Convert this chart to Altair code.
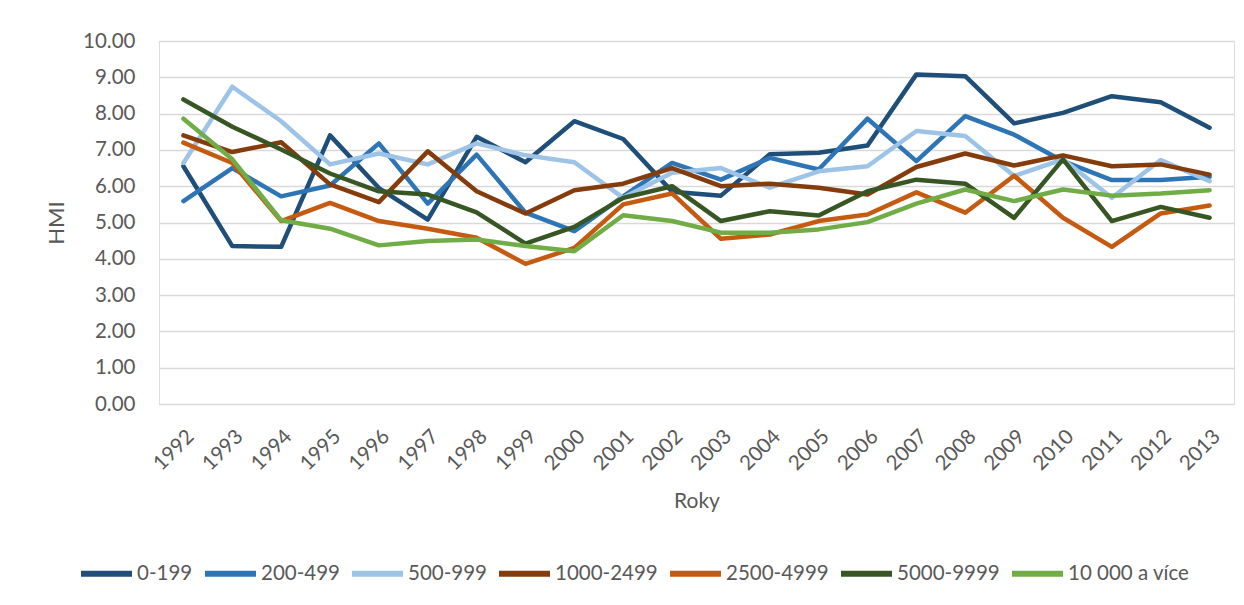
import altair as alt
import pandas as pd

years = [str(y) for y in range(1992, 2014)]

series_names = ["0-199", "200-499", "500-999", "1000-2499", "2500-4999", "5000-9999", "10 000 a více"]
colors = ["#1F4E79", "#2E75B6", "#9DC3E6", "#843C0C", "#C55A11", "#375623", "#70AD47"]

s_0_199 = [6.55, 4.35, 4.33, 7.40, 5.95, 5.08, 7.36, 6.66, 7.79, 7.30, 5.85, 5.74, 6.88, 6.92, 7.12, 9.08, 9.03, 7.73, 8.02, 8.48, 8.31, 7.61]
s_200_499 = [5.59, 6.50, 5.72, 6.02, 7.18, 5.52, 6.87, 5.27, 4.76, 5.72, 6.64, 6.18, 6.78, 6.46, 7.86, 6.69, 7.93, 7.42, 6.69, 6.17, 6.17, 6.26]
s_500_999 = [6.64, 8.74, 7.79, 6.60, 6.90, 6.60, 7.18, 6.85, 6.66, 5.68, 6.37, 6.50, 5.96, 6.41, 6.55, 7.52, 7.38, 6.28, 6.74, 5.68, 6.72, 6.14]
s_1000_2499 = [7.40, 6.94, 7.21, 6.05, 5.56, 6.96, 5.86, 5.25, 5.89, 6.07, 6.50, 6.00, 6.07, 5.96, 5.77, 6.53, 6.90, 6.57, 6.85, 6.55, 6.60, 6.32]
s_2500_4999 = [7.20, 6.64, 5.04, 5.54, 5.04, 4.83, 4.58, 3.86, 4.30, 5.50, 5.80, 4.55, 4.67, 5.04, 5.22, 5.83, 5.27, 6.29, 5.13, 4.33, 5.25, 5.47]
s_5000_9999 = [8.39, 7.64, 7.01, 6.35, 5.86, 5.77, 5.28, 4.42, 4.88, 5.68, 6.00, 5.04, 5.31, 5.19, 5.86, 6.18, 6.07, 5.13, 6.74, 5.04, 5.43, 5.13]
s_10000 = [7.86, 6.74, 5.06, 4.83, 4.37, 4.49, 4.53, 4.35, 4.21, 5.20, 5.04, 4.72, 4.72, 4.81, 5.01, 5.52, 5.91, 5.59, 5.91, 5.74, 5.80, 5.89]

all_series = [s_0_199, s_200_499, s_500_999, s_1000_2499, s_2500_4999, s_5000_9999, s_10000]

rows = []
for name, vals in zip(series_names, all_series):
    for yr, v in zip(years, vals):
        rows.append({"Rok": yr, "HMI": v, "Skupina": name})
df = pd.DataFrame(rows)

FONT = "Lato"
GRAY = "#595959"

chart = alt.Chart(df).mark_line(strokeWidth=4.5, strokeCap="round", strokeJoin="round").encode(
    x=alt.X("Rok:O", sort=years, title="Roky",
            scale=alt.Scale(type="point", padding=0.5),
            axis=alt.Axis(labelAngle=-45, labelFontSize=20.5, labelColor=GRAY, labelPadding=22,
                          ticks=False, domain=False, grid=False,
                          titleFontSize=21, titleColor=GRAY, titleFontWeight="normal",
                          titlePadding=16, labelFont=FONT, titleFont=FONT)),
    y=alt.Y("HMI:Q", title="HMI",
            scale=alt.Scale(domain=[0, 10], nice=False),
            axis=alt.Axis(values=[0, 1, 2, 3, 4, 5, 6, 7, 8, 9, 10], format=".2f",
                          labelFontSize=20.5, labelColor=GRAY, labelPadding=24,
                          ticks=False, domain=False, grid=True,
                          gridColor="#d9d9d9", gridWidth=1.5,
                          titleFontSize=22, titleColor=GRAY, titleFontWeight="normal",
                          titlePadding=14, labelFont=FONT, titleFont=FONT)),
    color=alt.Color("Skupina:N", sort=series_names,
                    scale=alt.Scale(domain=series_names, range=colors),
                    legend=alt.Legend(title=None, orient="none", legendX=-81, legendY=504,
                                      direction="horizontal", columns=7,
                                      symbolType="stroke", symbolSize=2601, symbolStrokeWidth=6,
                                      labelFontSize=20.5, labelColor=GRAY, labelFont=FONT,
                                      labelOffset=2, columnPadding=0)),
    order=alt.Order("Skupina:N"),
).properties(
    width=1075, height=363,
    autosize=alt.AutoSizeParams(type="none"),
    padding={"left": 151, "top": 33, "right": 2, "bottom": 190},
).configure_view(stroke=None).configure(background="white")

chart.save("out.html", embed_options={"renderer": "svg", "actions": False})
